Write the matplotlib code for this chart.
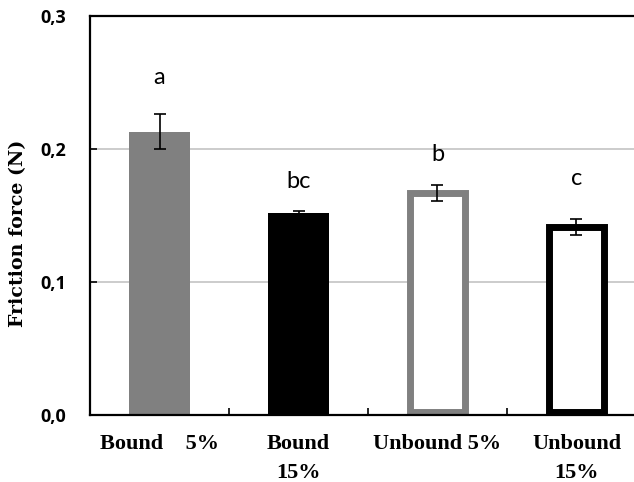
import numpy as np
import matplotlib
matplotlib.use("Agg")
import matplotlib.pyplot as plt
from matplotlib.ticker import FixedLocator

groups = ["Bound    5%", "Bound\n15%", "Unbound 5%", "Unbound\n15%"]
friction = [0.213, 0.152, 0.167, 0.141]
sem = [0.013, 0.0015, 0.006, 0.006]
letters = ["a", "bc", "b", "c"]
yticks = [0.0, 0.1, 0.2, 0.3]
ytick_labels = ["0,0", "0,1", "0,2", "0,3"]

gray = "#808080"
face = [gray, "black", "white", "white"]
edge = [gray, "black", gray, "black"]
edge_w = [0, 0, 5, 5]
letter_gap = [0.028, 0.022, 0.023, 0.031]

fig = plt.figure(figsize=(6.34, 4.82), dpi=100)
ax = fig.add_axes([90 / 634, 67 / 482, 556 / 634, 399 / 482])

x = np.arange(len(groups))
for i in range(len(groups)):
    lw = edge_w[i]
    half_px = lw / 72 * 100 / 2
    # outlined bars: keep the outline inside the bar footprint and above the axis
    dx = half_px / 139
    dy = half_px / 1330
    ax.bar(x[i], friction[i] - dy, bottom=dy, width=0.44 - 2 * dx,
           color=face[i], edgecolor=edge[i], linewidth=lw, zorder=2,
           clip_on=False)

ax.errorbar(x, friction, yerr=sem, fmt="none", ecolor="black",
            elinewidth=1.2, capsize=4.5, capthick=1.2, zorder=3)

for i, t in enumerate(letters):
    ax.text(x[i], friction[i] + sem[i] + letter_gap[i], t, ha="center",
            va="center", fontsize=17, family="Lato")

ax.set_xlim(-0.5, 3.5)
ax.set_ylim(0, 0.3)
ax.set_yticks(yticks)
ax.set_yticklabels(ytick_labels, fontsize=13, fontweight="bold",
                   family="Open Sans")
ax.yaxis.grid(True, color="#c4c4c4", linewidth=1.2, zorder=0)
ax.set_axisbelow(True)

ax.set_xticks(x)
ax.set_xticklabels(groups, fontsize=16, fontweight="bold",
                   family="Liberation Serif", linespacing=1.55)
ax.xaxis.set_minor_locator(FixedLocator([0.5, 1.5, 2.5]))
ax.tick_params(axis="x", which="major", length=0, pad=14)
ax.tick_params(axis="x", which="minor", direction="in", length=5, width=1.2)
ax.tick_params(axis="y", direction="in", length=5, width=1.2, pad=17)

ax.set_ylabel("Friction force (N)", fontsize=13.7, fontweight="bold",
              family="DejaVu Serif")
ax.yaxis.set_label_coords(-0.113, 0.455)

for s in ["left", "top", "bottom"]:
    ax.spines[s].set_linewidth(1.6)
ax.spines["right"].set_visible(False)

fig.savefig("out.png", dpi=100)
